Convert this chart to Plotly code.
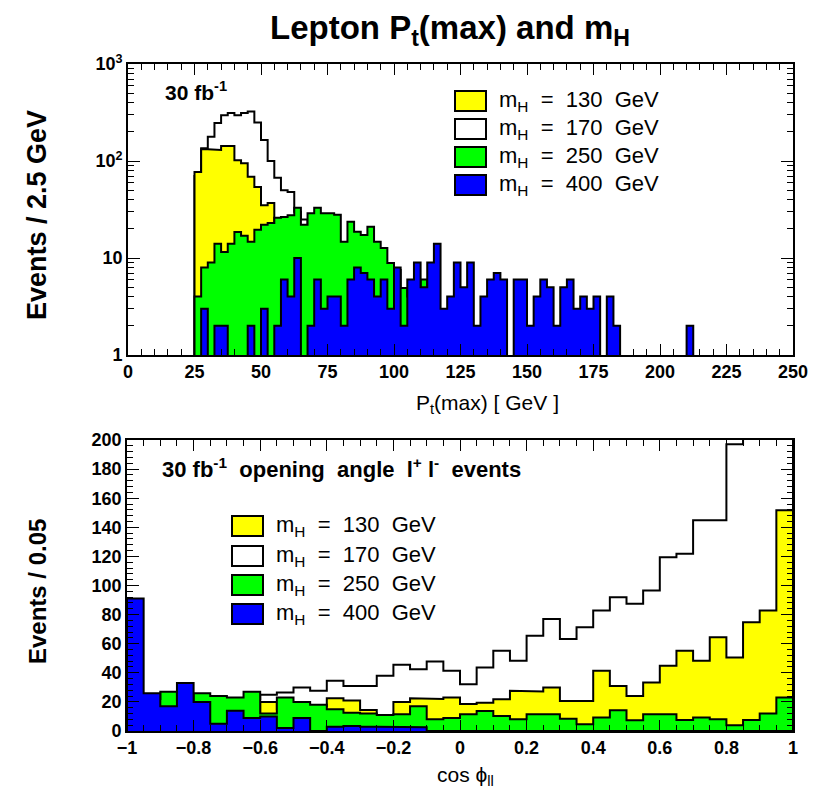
import plotly.graph_objects as go

W, H = 823, 790


def px(x):
    return x / W


def py(y):
    return 1 - y / H


# ------------------------------------------------------------------
# DATA
# Top panel: lepton Pt(max), 2.5 GeV bins, values listed from 25 GeV
pt_first_edge = 25.0
pt_bin_width = 2.5
pt_m130 = [77, 132, 132, 130, 143, 143, 102, 95, 69, 54, 35, 37, 20, 17, 14, 12,
           10, 9, 8, 7, 6, 5, 4, 4, 3, 3, 2, 2, 2, 1, 1]
pt_m170 = [70, 135, 178, 247, 297, 313, 297, 313, 324, 250, 165, 100, 67, 50, 48,
           30, 25, 18, 15, 14, 12, 10, 8, 7, 6, 5, 4, 3, 3, 2, 2, 1]
pt_m250 = [4, 8, 9, 14, 11.5, 14, 18.5, 17, 14.7, 19.5, 22, 23, 26, 26.5, 27.6, 33,
           22, 29, 33, 29, 29, 28, 14.7, 23.6, 18.7, 17.3, 21, 14.7, 12.7, 8.9, 7.5,
           4.9, 4, 3, 6, 3, 2, 2, 2]
pt_m400 = [0, 3, 0, 2, 2, 0, 0, 0, 2, 0, 3, 0, 2, 6, 4, 10, 0,
           2, 6, 3, 4, 4, 2, 6, 8, 7, 6, 4, 6, 3, 8, 2,
           6, 9, 5, 9, 14, 3, 4, 9, 5, 9, 2, 4, 6, 7, 6, 0, 6, 6, 2, 4, 6, 5, 2,
           5, 6, 3, 4, 3, 4, 0, 4, 2,
           0, 0, 0, 0, 0, 0, 0, 0, 0, 0, 2]

# Bottom panel: cos(phi_ll), 0.05 bins from -1 to 1
cos_first_edge = -1.0
cos_bin_width = 0.05
cos_m130 = [5, 5, 6, 6, 7, 8, 8, 10, 20, 15, 18, 17, 22.5, 21, 14.5, 10, 20, 22.5, 22, 23,
            18.5, 19.5, 21.8, 27.6, 27.1, 29.9, 20.7, 20.7, 41.4, 31, 24.1, 33.3, 44.8,
            55.2, 48.3, 64.4, 50.6, 74.7, 82.8, 151.7]
cos_m170 = [15, 20, 22, 22, 22, 20, 20, 22, 25, 26.4, 29.9, 27.6, 34.5, 31, 31, 37.9, 45.5,
            42.5, 47.8, 41.4, 32.2, 43.7, 55.2, 48.3, 65.5, 77, 63.2, 71.3, 82.8, 92, 87.4,
            96.6, 119.5, 121.8, 144.8, 144.8, 197, 230, 250, 300]
cos_m250 = [20, 22, 27, 21, 26, 24, 23, 27, 12, 23, 20, 18, 15, 12.5, 12, 11, 11.5, 17, 8, 9,
            11.5, 13.8, 10.3, 8, 11.5, 11.5, 8.5, 4.6, 9.2, 14.3, 7.4, 11.5, 11.5, 7.6, 9.2,
            8, 3.9, 7.6, 12, 23]
cos_m400 = [91, 26, 17, 33, 20, 5, 14, 9, 10, 2, 9, 0, 3, 3.5, 3, 3, 3, 2.5,
            0, 0, 0, 0, 0, 0, 0, 0, 0, 0, 0, 0, 0, 0, 0, 0, 0, 0, 0, 0, 0, 0]

NB = "\u00a0"
series_labels = [f"m<sub>H</sub>{NB}{NB}={NB}{NB}130{NB}{NB}GeV",
                 f"m<sub>H</sub>{NB}{NB}={NB}{NB}170{NB}{NB}GeV",
                 f"m<sub>H</sub>{NB}{NB}={NB}{NB}250{NB}{NB}GeV",
                 f"m<sub>H</sub>{NB}{NB}={NB}{NB}400{NB}{NB}GeV"]
series_colors = ["#ffff00", "#ffffff", "#00ff00", "#0000ff"]

pt_ticks = [1, 10, 100, 1000]
pt_ticktext = ["1", "10", "10<sup>2</sup>", "10<sup>3</sup>"]

# ------------------------------------------------------------------


def step_polygon(edge0, width, values, floor):
    xs = [edge0]
    ys = [floor]
    for i, v in enumerate(values):
        left = edge0 + i * width
        right = left + width
        vv = v if v > floor else floor
        xs += [left, right]
        ys += [vv, vv]
    xs.append(edge0 + len(values) * width)
    ys.append(floor)
    return xs, ys


fig = go.Figure()

# drawing order: 170 (white) behind, then 130, 250, 400
order = [1, 0, 2, 3]
pt_sets = [pt_m130, pt_m170, pt_m250, pt_m400]
cos_sets = [cos_m130, cos_m170, cos_m250, cos_m400]

for k in order:
    xs, ys = step_polygon(pt_first_edge, pt_bin_width, pt_sets[k], 1e-2)
    fig.add_trace(go.Scatter(x=xs, y=ys, mode="lines", fill="toself",
                             fillcolor=series_colors[k],
                             line=dict(color="black", width=2),
                             xaxis="x", yaxis="y", showlegend=False,
                             hoverinfo="skip"))
for k in order:
    xs, ys = step_polygon(cos_first_edge, cos_bin_width, cos_sets[k], 0)
    fig.add_trace(go.Scatter(x=xs, y=ys, mode="lines", fill="toself",
                             fillcolor=series_colors[k],
                             line=dict(color="black", width=2),
                             xaxis="x2", yaxis="y2", showlegend=False,
                             hoverinfo="skip"))

FONT = "Liberation Sans, Arial, sans-serif"
xtickfont = dict(family=FONT, size=18, color="black", weight="bold")
ytickfont = dict(family=FONT, size=18, color="black", weight="bold")

axis_common = dict(showline=True, linecolor="black", linewidth=1.6,
                   mirror="allticks", ticks="inside", tickcolor="black",
                   tickwidth=1.2, showgrid=False, zeroline=False,
                   automargin=False)

fig.update_layout(
    width=W, height=H,
    margin=dict(l=0, r=0, t=0, b=0),
    paper_bgcolor="white", plot_bgcolor="white",
    xaxis=dict(domain=[px(128), px(793)], range=[0, 250], anchor="y",
               tickmode="linear", tick0=0, dtick=25, ticklen=11, tickfont=xtickfont,
               minor=dict(ticks="inside", dtick=5, ticklen=6, tickcolor="black"),
               **axis_common),
    yaxis=dict(domain=[py(355), py(64)], type="log", range=[0, 3], anchor="x",
               tickmode="array", tickvals=pt_ticks, ticktext=pt_ticktext,
               ticklen=12, tickfont=ytickfont,
               minor=dict(ticks="inside", dtick="D1", ticklen=6, tickcolor="black"),
               **axis_common),
    xaxis2=dict(domain=[px(127), px(793)], range=[-1, 1], anchor="y2",
                tickmode="linear", tick0=-1, dtick=0.2, ticklen=11, tickfont=xtickfont,
                minor=dict(ticks="inside", dtick=0.05, ticklen=6, tickcolor="black"),
                **axis_common),
    yaxis2=dict(domain=[py(731), py(440)], range=[0, 200], anchor="x2",
                tickmode="linear", tick0=0, dtick=20, ticklen=12, tickfont=ytickfont,
                minor=dict(ticks="inside", dtick=4, ticklen=6, tickcolor="black"),
                **axis_common),
)

ann = []


def text(x, y, s, size, bold=False, xanchor="center", angle=0):
    ann.append(dict(x=px(x), y=py(y), xref="paper", yref="paper", text=s,
                    showarrow=False, xanchor=xanchor, yanchor="middle",
                    textangle=angle,
                    font=dict(family=FONT, size=size, color="black",
                              weight="bold" if bold else "normal")))


text(450, 30, "Lepton P<sub>t</sub>(max) and m<sub>H</sub>", 33, bold=True)
text(163, 91, "30 fb<sup>-1</sup>", 21, bold=True, xanchor="left")
text(160, 468,
     f"30 fb<sup>-1</sup>{NB}{NB}opening{NB}{NB}angle{NB}{NB}l<sup>+</sup>{NB}l<sup>-</sup>{NB}{NB}events",
     22, bold=True, xanchor="left")
text(37, 215, "Events / 2.5 GeV", 27, bold=True, angle=-90)
text(37, 592, "Events / 0.05", 24, bold=True, angle=-90)
text(487, 404, f"P<sub>t</sub>(max){NB}[{NB}GeV{NB}]", 21)
text(465, 776, "cos ϕ<sub>ll</sub>", 21)

shapes = []
top_rows = [101, 129, 157, 185]
bot_rows = [526, 556, 585, 614]
for i in range(4):
    for (bx, rows, tx) in [(455, top_rows, 497), (232, bot_rows, 274)]:
        yc = rows[i]
        shapes.append(dict(type="rect", xref="paper", yref="paper",
                           x0=px(bx), x1=px(bx + 31), y0=py(yc + 10), y1=py(yc - 10),
                           fillcolor=series_colors[i],
                           line=dict(color="black", width=2)))
        text(tx, yc, series_labels[i], 22, xanchor="left")

fig.update_layout(annotations=ann, shapes=shapes)

fig.write_html("out.html")
